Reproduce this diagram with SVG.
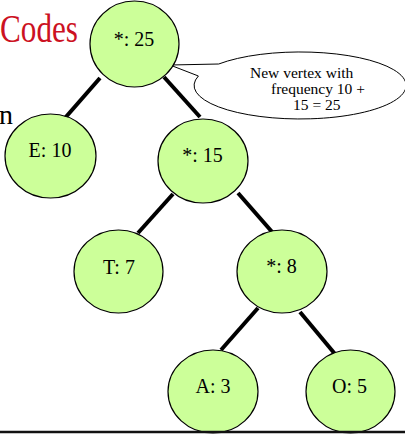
<svg xmlns="http://www.w3.org/2000/svg" width="405" height="434" viewBox="0 0 405 434">
  <style>
    .node ellipse { fill: #ccff99; stroke: #000; stroke-width: 1.2; }
    .node text { font-family: "Liberation Serif", "Times New Roman", serif; font-size: 20px; fill: #000; text-anchor: middle; }
    .edges line { stroke: #000; stroke-width: 4; stroke-linecap: butt; }
    .note text { font-family: "Liberation Serif", "Times New Roman", serif; font-size: 15.5px; fill: #000; }
  </style>

  <rect width="405" height="434" fill="#fff"/>

  <!-- slide title fragments -->
  <text transform="translate(78,42) scale(0.8,1)" text-anchor="end" font-family="Liberation Serif, Times New Roman, serif" font-size="39" fill="#cc1122">Codes</text>
  <text x="-1" y="124" font-family="Liberation Serif, Times New Roman, serif" font-size="28" fill="#000">n</text>

  <!-- tree edges -->
  <g class="edges" id="edges">
    <line x1="100" y1="78" x2="65" y2="118"/>
    <line x1="164" y1="77" x2="200" y2="117"/>
    <line x1="173" y1="194" x2="138" y2="233"/>
    <line x1="238" y1="193" x2="273" y2="233"/>
    <line x1="258" y1="308" x2="221" y2="350"/>
    <line x1="300" y1="312" x2="335" y2="354"/>
  </g>

  <!-- callout bubble -->
  <g class="note" id="note">
    <path d="M 170 65 L 218.7 64 A 106 33.5 0 1 1 198.4 76 Z" fill="#fff" stroke="#000" stroke-width="1"/>
    <text x="250" y="78">New vertex with</text>
    <text x="271" y="94">frequency 10 +</text>
    <text x="293" y="110">15 = 25</text>
  </g>

  <g class="node" id="n-root">
    <ellipse cx="134.5" cy="44" rx="44.5" ry="43"/>
    <text x="134" y="46">*: 25</text>
  </g>
  <g class="node" id="n-e">
    <ellipse cx="50.5" cy="156" rx="45.5" ry="42"/>
    <text x="50" y="157">E: 10</text>
  </g>
  <g class="node" id="n-15">
    <ellipse cx="203" cy="161" rx="45" ry="42"/>
    <text x="202.5" y="162">*: 15</text>
  </g>
  <g class="node" id="n-t">
    <ellipse cx="118.5" cy="271.5" rx="44.5" ry="41.5"/>
    <text x="119" y="274">T: 7</text>
  </g>
  <g class="node" id="n-8">
    <ellipse cx="282" cy="271.5" rx="45" ry="41.5"/>
    <text x="281.5" y="273">*: 8</text>
  </g>
  <g class="node" id="n-a">
    <ellipse cx="213" cy="391.5" rx="45" ry="41.5"/>
    <text x="213" y="393">A: 3</text>
  </g>
  <g class="node" id="n-o">
    <ellipse cx="350.5" cy="391.5" rx="44.5" ry="41.5"/>
    <text x="349.5" y="393">O: 5</text>
  </g>

  <!-- baseline rule -->
  <line x1="0" y1="432" x2="405" y2="432" stroke="#111" stroke-width="2.6"/>
</svg>
